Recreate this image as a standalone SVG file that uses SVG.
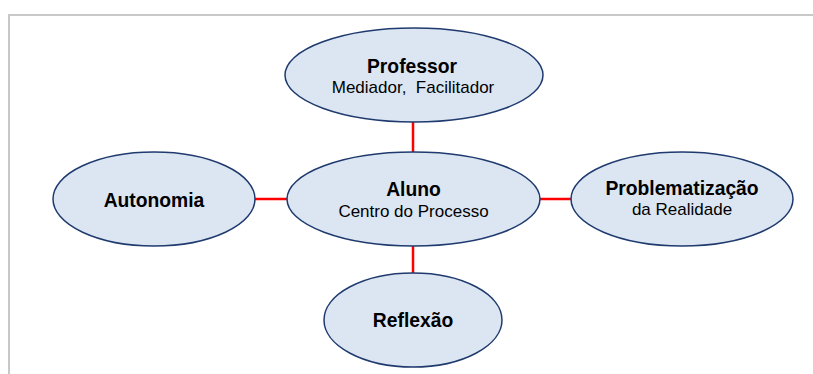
<svg xmlns="http://www.w3.org/2000/svg" width="813" height="374" viewBox="0 0 813 374">
  <style>
    .node ellipse { fill: #dce6f2; stroke: #1f3a6e; stroke-width: 1.5; }
    .title { font-family: "Liberation Sans", Arial, sans-serif; font-weight: bold; font-size: 19.3px; fill: #000; text-anchor: middle; }
    .sub { font-family: "Liberation Sans", Arial, sans-serif; font-size: 17px; fill: #000; text-anchor: middle; }
    .link { stroke: #ff0000; stroke-width: 2.5; fill: none; }
  </style>
  <rect width="813" height="374" fill="#ffffff"/>
  <!-- page frame -->
  <polyline points="9,374 9,15 813,15" fill="none" stroke="#c8c8c8" stroke-width="2"/>

  <g id="connectors">
    <line class="link" x1="413" y1="121" x2="413" y2="153"/>
    <line class="link" x1="413" y1="245" x2="413" y2="274"/>
    <line class="link" x1="254" y1="199" x2="288" y2="199"/>
    <line class="link" x1="539" y1="199" x2="572" y2="199"/>
  </g>

  <g id="professor" class="node">
    <ellipse cx="414" cy="75" rx="129" ry="47"/>
    <text class="title" x="412" y="73">Professor</text>
    <text class="sub" x="413" y="93" xml:space="preserve">Mediador,  Facilitador</text>
  </g>

  <g id="aluno" class="node">
    <ellipse cx="413.5" cy="199" rx="126.5" ry="47"/>
    <text class="title" x="413.5" y="196">Aluno</text>
    <text class="sub" x="413.5" y="217">Centro do Processo</text>
  </g>

  <g id="autonomia" class="node">
    <ellipse cx="154" cy="199" rx="101" ry="47"/>
    <text class="title" x="154" y="207">Autonomia</text>
  </g>

  <g id="problematizacao" class="node">
    <ellipse cx="682" cy="199" rx="111" ry="47"/>
    <text class="title" x="682" y="195">Problematização</text>
    <text class="sub" x="682" y="215">da Realidade</text>
  </g>

  <g id="reflexao" class="node">
    <ellipse cx="413" cy="320" rx="89" ry="47"/>
    <text class="title" x="413" y="327">Reflexão</text>
  </g>
</svg>
